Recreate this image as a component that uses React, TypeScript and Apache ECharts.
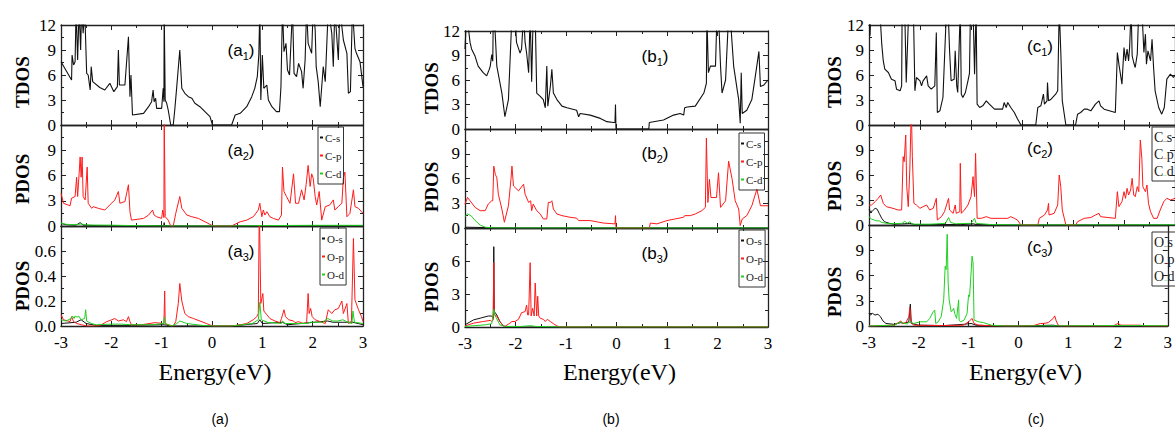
import React, { useEffect, useRef } from "react";
import * as echarts from "echarts";

type P = [number, number][];

// ---------- Column (a) ----------
const aTDOS: P = [[-3.00,7.6],[-2.79,5.4],[-2.78,8.4],[-2.75,7.2],[-2.72,7.6],[-2.70,14],[-2.67,7.8],[-2.64,14],[-2.61,9],[-2.59,14],[-2.56,11],[-2.53,14],[-2.49,6.2],[-2.46,6],[-2.42,4.2],[-2.40,7],[-2.37,5.2],[-2.23,4.5],[-2.13,4.2],[-2.03,5],[-1.95,4],[-1.88,4.6],[-1.86,9],[-1.84,4.8],[-1.73,4.8],[-1.66,10.6],[-1.63,3.4],[-1.61,6],[-1.58,1.2],[-1.36,1.4],[-1.26,2.2],[-1.20,2.8],[-1.17,4.2],[-1.15,2.8],[-1.12,3.2],[-1.10,2],[-1.00,2],[-0.97,4.4],[-0.955,2.8],[-0.95,14],[-0.94,14],[-0.93,3],[-0.90,2.6],[-0.87,1.8],[-0.82,0],[-0.77,0],[-0.74,1.8],[-0.70,4.6],[-0.64,9],[-0.60,4.4],[-0.54,3.8],[-0.47,3.4],[-0.40,3.2],[-0.34,2.6],[-0.24,2.2],[-0.14,1.6],[-0.04,1],[0.01,0],[0.39,0],[0.46,1.2],[0.56,1.4],[0.69,2.2],[0.79,3.4],[0.85,4.4],[0.90,5.8],[0.93,8.4],[0.95,14],[0.97,3],[1.00,8.4],[1.03,4.4],[1.09,4.8],[1.12,3],[1.19,2.2],[1.28,1.6],[1.34,1.6],[1.37,4.6],[1.40,14],[1.43,8.8],[1.47,9.8],[1.50,6.6],[1.54,6],[1.60,14],[1.63,6.2],[1.68,5.8],[1.72,7.4],[1.78,6.4],[1.81,4.4],[1.85,7.8],[1.88,14],[1.91,9.8],[1.98,8.6],[2.01,14],[2.05,11.4],[2.07,7],[2.11,5.2],[2.15,2.2],[2.21,7],[2.25,5.2],[2.31,14],[2.38,11],[2.41,7],[2.44,14],[2.51,7.8],[2.54,14],[2.61,10.2],[2.68,8.6],[2.71,3.8],[2.75,4],[2.79,14],[2.84,9.2],[2.87,8.6],[2.94,7.6],[3.00,4.6]];
const aCs: P = [[-3,0.3],[-2.9,0.15],[-2.7,0.1],[-2.62,0.4],[-2.56,0.1],[-2.3,0.05],[-1.6,0.02],[-0.96,0.05],[-0.95,0.4],[-0.94,0.05],[-0.8,0],[0.4,0],[1,0.05],[2,0.05],[3,0.05]];
const aCp: P = [[-3.00,3.9],[-2.95,2.7],[-2.82,2.4],[-2.79,3.3],[-2.72,3.5],[-2.69,5.8],[-2.67,3.5],[-2.64,6.2],[-2.62,8.2],[-2.60,5.8],[-2.58,8.2],[-2.56,3.5],[-2.52,3.1],[-2.48,7],[-2.46,2.7],[-2.39,2.1],[-2.36,2.3],[-2.26,2.1],[-2.13,1.9],[-2.03,2.5],[-1.93,3.1],[-1.86,4.1],[-1.83,2.7],[-1.73,2.9],[-1.66,4.9],[-1.63,1.7],[-1.60,0.7],[-1.36,0.9],[-1.26,1.3],[-1.18,1.9],[-1.15,1.3],[-1.10,1.1],[-1.00,0.9],[-0.98,1.9],[-0.955,1.0],[-0.95,14],[-0.94,14],[-0.93,1.1],[-0.87,0.7],[-0.82,0],[-0.77,0],[-0.72,1.5],[-0.64,3.5],[-0.60,2.1],[-0.50,1.3],[-0.40,1.1],[-0.27,0.9],[-0.14,0.5],[-0.01,0.1],[0.03,0],[0.39,0],[0.42,0.1],[0.56,0.5],[0.69,0.7],[0.82,1.1],[0.92,1.9],[0.95,2.7],[0.99,1.1],[1.02,1.9],[1.05,1.3],[1.09,1.7],[1.15,1.1],[1.22,0.9],[1.32,0.7],[1.38,1.3],[1.40,7],[1.43,4.1],[1.48,3.5],[1.55,2.7],[1.62,6.2],[1.66,2.7],[1.72,2.7],[1.78,4.3],[1.83,3.1],[1.87,4.9],[1.91,7.2],[1.95,4.7],[1.98,6.2],[2.01,5.7],[2.05,3.5],[2.08,2.5],[2.13,4.1],[2.18,0.7],[2.25,2.3],[2.34,2.5],[2.41,3.1],[2.44,1.9],[2.51,2.3],[2.58,2.7],[2.61,5.7],[2.64,6.4],[2.68,1.1],[2.74,1.5],[2.81,4.3],[2.84,2.3],[2.91,2.1],[2.97,1.7],[3.00,1.5]];
const aCd: P = [[-3,0.35],[-2.9,0.2],[-2.7,0.15],[-2.6,0.25],[-2.5,0.12],[-2,0.1],[-1.6,0.05],[-0.8,0],[0.4,0],[1,0.05],[2,0.08],[3,0.08]];
const aOs: P = [[-3,0.02],[-2.7,0.03],[-2.6,0.05],[-2.5,0.02],[-2.3,0.005],[-1.6,0.005],[-0.95,0.01],[-0.8,0],[0.4,0],[0.9,0.02],[0.95,0.05],[1.0,0.02],[1.4,0.03],[1.5,0.01],[2.3,0.04],[2.4,0.03],[2.6,0.03],[2.8,0.03],[3,0.01]];
const aOp: P = [[-3.00,0.09],[-2.95,0.05],[-2.82,0.035],[-2.79,0.075],[-2.75,0.035],[-2.69,0.02],[-2.59,0.01],[-2.49,0],[-2.3,0],[-2.2,0.01],[-2.09,0.035],[-1.99,0.05],[-1.93,0.06],[-1.86,0.04],[-1.76,0.05],[-1.70,0.035],[-1.66,0.075],[-1.63,0.035],[-1.60,0.01],[-1.40,0.01],[-1.13,0.027],[-0.97,0.02],[-0.955,0.02],[-0.94,0.28],[-0.93,0.02],[-0.87,0.01],[-0.77,0],[-0.72,0.035],[-0.67,0.18],[-0.64,0.34],[-0.60,0.2],[-0.54,0.1],[-0.47,0.075],[-0.37,0.06],[-0.24,0.04],[-0.11,0.02],[-0.02,0.005],[0.03,0],[0.39,0],[0.56,0.01],[0.69,0.02],[0.82,0.05],[0.89,0.075],[0.92,0.1],[0.94,0.95],[0.97,0.18],[1.01,0.26],[1.03,0.12],[1.09,0.09],[1.15,0.06],[1.25,0.04],[1.35,0.027],[1.38,0.06],[1.43,0.13],[1.46,0.075],[1.52,0.05],[1.62,0.04],[1.65,0.027],[1.72,0.035],[1.81,0.02],[1.88,0.027],[1.91,0.26],[1.93,0.1],[1.96,0.14],[1.99,0.075],[2.05,0.05],[2.15,0.035],[2.25,0.02],[2.31,0.13],[2.38,0.1],[2.44,0.13],[2.51,0.14],[2.58,0.2],[2.61,0.1],[2.68,0.18],[2.71,0.02],[2.77,0.035],[2.81,0.70],[2.84,0.21],[2.91,0.13],[2.97,0.075],[3.00,0.035]];
const aOd: P = [[-3,0.05],[-2.9,0.04],[-2.8,0.06],[-2.77,0.08],[-2.74,0.06],[-2.72,0.08],[-2.68,0.07],[-2.65,0.08],[-2.6,0.05],[-2.53,0.06],[-2.51,0.13],[-2.49,0.04],[-2.4,0.02],[-2.3,0.01],[-2.0,0.015],[-1.8,0.015],[-1.6,0.01],[-1.2,0.01],[-0.96,0.02],[-0.95,0.07],[-0.93,0.02],[-0.8,0],[-0.7,0.02],[-0.64,0.04],[-0.5,0.02],[-0.2,0.005],[0,0],[0.4,0],[0.8,0.02],[0.92,0.05],[0.95,0.19],[0.98,0.05],[1.1,0.03],[1.38,0.02],[1.4,0.04],[1.45,0.02],[1.9,0.02],[1.95,0.03],[2.2,0.03],[2.3,0.06],[2.4,0.04],[2.5,0.04],[2.6,0.05],[2.7,0.03],[2.78,0.02],[2.8,0.12],[2.83,0.03],[3,0.02]];

// ---------- Column (b) ----------
const bTDOS: P = [[-3.00,9.8],[-2.98,12.5],[-2.93,12.2],[-2.90,10.6],[-2.87,9.8],[-2.80,8.9],[-2.74,7.7],[-2.64,6.9],[-2.57,6.5],[-2.52,7.3],[-2.50,7.7],[-2.47,9.1],[-2.45,8.3],[-2.44,14],[-2.42,14],[-2.37,7.7],[-2.27,4.4],[-2.21,1.5],[-2.14,3.6],[-2.07,14],[-2.01,14],[-1.98,10.6],[-1.91,9.3],[-1.88,9.8],[-1.84,14],[-1.81,10.6],[-1.78,9.3],[-1.74,6.9],[-1.71,14],[-1.68,5.8],[-1.65,14],[-1.61,14],[-1.58,4.4],[-1.51,4],[-1.45,3.6],[-1.41,2.6],[-1.38,7.7],[-1.36,2.8],[-1.31,5.2],[-1.28,7.3],[-1.25,4.4],[-1.18,3.6],[-1.08,2.8],[-0.98,2.6],[-0.79,2.3],[-0.75,1.5],[-0.72,1.9],[-0.52,1.7],[-0.32,1.3],[-0.19,0.9],[-0.06,0.8],[-0.03,0.8],[-0.02,3],[-0.01,0],[0.64,0],[0.65,0.8],[0.93,1.1],[1.13,1.7],[1.26,1.9],[1.33,1.7],[1.35,2.6],[1.40,2.7],[1.56,2.8],[1.73,4.4],[1.78,5.6],[1.79,14],[1.82,6.9],[1.86,7.7],[1.96,7.7],[1.99,14],[2.02,14],[2.06,7.7],[2.09,4.4],[2.16,6],[2.22,14],[2.25,14],[2.32,7.7],[2.39,4.8],[2.42,3.6],[2.45,0.7],[2.47,6.9],[2.49,1.9],[2.58,2.3],[2.68,3.6],[2.75,6.5],[2.82,9.5],[2.85,5.2],[2.92,5.4],[3.00,6]];
const bCs: P = [[-3,0.1],[-2.6,0.05],[-2.4,0.02],[-2,0],[3,0]];
const bCp: P = [[-3.00,2.9],[-2.95,3.7],[-2.90,3.3],[-2.80,2.5],[-2.70,2.1],[-2.60,2.1],[-2.54,2.9],[-2.47,3.3],[-2.45,3.3],[-2.43,7.5],[-2.40,6.5],[-2.37,6.1],[-2.34,4.1],[-2.27,2.3],[-2.22,0.7],[-2.14,2.7],[-2.09,5.9],[-2.07,7.5],[-2.04,5.1],[-1.94,4.5],[-1.84,5.3],[-1.81,4.1],[-1.74,3.1],[-1.70,3.3],[-1.68,2.1],[-1.65,2.9],[-1.58,2.1],[-1.51,1.7],[-1.45,1.1],[-1.38,1.1],[-1.35,3.1],[-1.31,3.1],[-1.28,3.3],[-1.25,2.3],[-1.18,1.7],[-1.08,1.5],[-0.92,1.3],[-0.79,1.2],[-0.75,0.9],[-0.52,0.9],[-0.26,0.6],[-0.03,0.5],[-0.02,1.5],[-0.01,0],[0.65,0],[0.67,0.6],[0.80,0.5],[1.00,0.9],[1.16,1.1],[1.33,1.3],[1.35,1.5],[1.46,1.5],[1.56,1.7],[1.69,2.1],[1.76,2.5],[1.78,10.9],[1.81,3.1],[1.84,5.9],[1.87,3.7],[1.98,3.7],[2.02,6.7],[2.06,2.5],[2.16,3.3],[2.22,8.1],[2.29,5.9],[2.35,3.3],[2.42,2.3],[2.45,0.3],[2.49,1.1],[2.58,1.5],[2.68,2.7],[2.78,4.7],[2.85,2.7],[3.00,2.7]];
const bCd: P = [[-3,1.4],[-2.95,1.7],[-2.88,1.5],[-2.8,0.9],[-2.7,0.35],[-2.6,0.1],[-2.45,0.02],[-2.2,0],[3,0]];
const bOs: P = [[-3,0.2],[-2.83,0.65],[-2.70,0.8],[-2.54,1.0],[-2.47,1.0],[-2.44,0.8],[-2.43,7.3],[-2.42,1.4],[-2.37,1.1],[-2.31,0.5],[-2.24,0.1],[-2.17,0],[3,0]];
const bOp: P = [[-3.00,0.1],[-2.83,0.35],[-2.64,0.5],[-2.50,0.6],[-2.47,0.5],[-2.44,0.65],[-2.43,5.85],[-2.42,1.1],[-2.37,1.0],[-2.31,0.5],[-2.24,0.1],[-2.21,0.05],[-2.11,0.35],[-2.07,0.5],[-2.01,0.5],[-1.94,0.7],[-1.88,1.3],[-1.81,1.4],[-1.78,2.0],[-1.76,1.1],[-1.74,1.1],[-1.71,5.85],[-1.69,1.0],[-1.66,1.7],[-1.63,1.0],[-1.61,4.0],[-1.58,1.0],[-1.56,2.8],[-1.54,1.0],[-1.51,0.8],[-1.45,0.7],[-1.41,0.5],[-1.37,0.7],[-1.31,0.5],[-1.25,0.3],[-1.18,0.1],[-1.12,0],[3,0]];
const bOd: P = [[-3,0.05],[-2.6,0.2],[-2.47,0.3],[-2.43,1.6],[-2.40,1.0],[-2.31,0.2],[-2.2,0.05],[-1.9,0.05],[-1.7,0.12],[-1.6,0.05],[-1.3,0.02],[-1.1,0],[3,0]];

// ---------- Column (c) ----------
const cTDOS: P = [[-3.00,14],[-2.98,10.7],[-2.96,14],[-2.79,14],[-2.75,9.7],[-2.72,7.7],[-2.69,6.7],[-2.62,6.3],[-2.56,5.5],[-2.49,5.3],[-2.46,4.3],[-2.39,4.1],[-2.36,4.7],[-2.35,14],[-2.30,14],[-2.27,5.1],[-2.22,14],[-2.18,14],[-2.13,14],[-2.10,4.1],[-2.07,5.7],[-2.00,5.3],[-1.97,4.7],[-1.94,5.3],[-1.87,5.9],[-1.84,4.7],[-1.78,4.3],[-1.71,4.7],[-1.68,11.1],[-1.66,1.5],[-1.61,1.7],[-1.55,3.3],[-1.48,14],[-1.45,14],[-1.42,8.9],[-1.39,5.3],[-1.33,5.5],[-1.31,8.9],[-1.28,4.7],[-1.26,3.9],[-1.21,14],[-1.19,3.7],[-1.16,3.3],[-1.11,3.9],[-1.06,5.3],[-1.03,6.2],[-1.01,14],[-0.96,14],[-0.93,6.1],[-0.90,14],[-0.88,2.5],[-0.83,2.1],[-0.77,2.3],[-0.70,2.9],[-0.64,2.5],[-0.54,1.9],[-0.38,1.9],[-0.35,2.7],[-0.31,2.1],[-0.28,2.7],[-0.22,2.1],[-0.15,1.5],[-0.09,0.75],[-0.02,0],[0.27,0],[0.31,2.1],[0.37,2.3],[0.42,3.7],[0.44,2.5],[0.49,2.9],[0.50,5.1],[0.52,2.9],[0.57,3.1],[0.66,3.7],[0.70,4.1],[0.73,14],[0.76,8.9],[0.79,2.9],[0.86,0],[1.05,0],[1.09,1.3],[1.15,1.5],[1.22,1.9],[1.28,1.9],[1.35,1.7],[1.44,2.5],[1.51,2.9],[1.54,2.3],[1.61,1.9],[1.83,1.5],[1.87,8.7],[1.90,7.3],[1.96,4.9],[2.00,9.3],[2.03,7.7],[2.06,9.1],[2.09,7.7],[2.11,9.3],[2.14,14],[2.16,8.3],[2.19,7.5],[2.22,6.9],[2.26,8.5],[2.29,14],[2.35,14],[2.39,8.7],[2.42,10.9],[2.44,7.3],[2.47,8.9],[2.52,7.7],[2.55,10.3],[2.58,6.9],[2.61,4.1],[2.68,2.1],[2.74,1.3],[2.79,2.1],[2.84,5.5],[2.91,6.1],[2.97,5.7],[3.00,6]];
const cCs: P = [[-3,1.9],[-2.97,1.6],[-2.93,1.7],[-2.88,2.0],[-2.84,1.9],[-2.8,1.4],[-2.75,0.8],[-2.7,0.4],[-2.6,0.2],[-2.5,0.1],[-2.3,0.15],[-2.2,0.2],[-2.1,0.05],[-1.5,0.05],[-1.2,0.05],[-0.95,0.15],[-0.9,0.05],[-0.5,0.02],[0,0],[3,0]];
const cCp: P = [[-3.00,2.4],[-2.95,2.4],[-2.88,2.8],[-2.82,3.2],[-2.77,3.6],[-2.72,2.6],[-2.66,2.2],[-2.53,2.0],[-2.43,1.8],[-2.36,1.8],[-2.33,8.2],[-2.31,7.6],[-2.28,10.8],[-2.26,4.6],[-2.23,2.2],[-2.20,6.6],[-2.17,14],[-2.15,8.2],[-2.12,2.6],[-2.07,2.4],[-2.00,2.0],[-1.94,2.2],[-1.87,2.4],[-1.81,1.8],[-1.74,2.0],[-1.68,3.2],[-1.66,0.6],[-1.58,1.0],[-1.52,1.6],[-1.44,3.2],[-1.42,1.8],[-1.35,1.4],[-1.31,2.4],[-1.29,1.4],[-1.22,1.6],[-1.21,7.4],[-1.19,1.4],[-1.13,1.8],[-1.06,2.4],[-1.00,3.4],[-0.96,5.8],[-0.95,4.8],[-0.93,3.4],[-0.91,8.6],[-0.88,0.8],[-0.80,0.8],[-0.70,1.0],[-0.61,0.8],[-0.41,0.8],[-0.28,0.8],[-0.22,1.0],[-0.15,0.8],[-0.09,0.6],[-0.02,0],[0.31,0],[0.34,0.8],[0.44,1.2],[0.50,1.8],[0.52,2.6],[0.53,1.2],[0.63,1.4],[0.70,2.4],[0.73,6.0],[0.76,4.6],[0.79,1.8],[0.86,0],[1.05,0],[1.09,0.4],[1.22,0.8],[1.35,0.9],[1.44,1.2],[1.51,1.4],[1.54,1.0],[1.83,0.8],[1.87,4.0],[1.90,2.2],[1.96,2.8],[2.00,4.0],[2.03,3.2],[2.06,4.4],[2.09,3.6],[2.13,4.2],[2.16,5.6],[2.19,3.6],[2.22,3.4],[2.26,4.6],[2.29,4.0],[2.32,10.2],[2.35,8.0],[2.37,4.6],[2.42,4.0],[2.45,4.8],[2.48,2.6],[2.52,1.6],[2.58,0.8],[2.65,0.8],[2.71,1.8],[2.78,2.8],[2.84,3.2],[2.91,3.0],[3.00,3.2]];
const cCd: P = [[-3,1.0],[-2.95,0.7],[-2.9,0.6],[-2.85,0.5],[-2.8,0.5],[-2.75,0.3],[-2.6,0.15],[-2.35,0.2],[-2.3,0.45],[-2.25,0.2],[-2.2,0.4],[-2.15,0.1],[-1.8,0.1],[-1.5,0.2],[-1.44,0.9],[-1.40,0.3],[-1.3,0.15],[-1.0,0.2],[-0.93,0.8],[-0.9,0.2],[-0.6,0.05],[0,0],[3,0.02]];
const cOs: P = [[-3,1.5],[-2.97,1.3],[-2.93,1.5],[-2.88,1.3],[-2.82,1.4],[-2.77,1.1],[-2.72,0.6],[-2.66,0.3],[-2.5,0.2],[-2.36,0.4],[-2.30,0.3],[-2.20,0.5],[-2.17,2.6],[-2.15,0.3],[-2.0,0.1],[-1.5,0.05],[-1.1,0.2],[-0.95,0.3],[-0.85,0.1],[-0.5,0.02],[0,0],[0.7,0.1],[0.8,0],[3,0]];
const cOp: P = [[-3,0],[-2.49,0.1],[-2.36,0.6],[-2.33,0.3],[-2.26,0.4],[-2.20,1.1],[-2.18,2.2],[-2.16,0.4],[-2.10,0.1],[-1.5,0.05],[-1.1,0.1],[-1.00,0.5],[-0.93,0.9],[-0.89,0.3],[-0.8,0.1],[-0.5,0.02],[0,0],[0.31,0.05],[0.44,0.3],[0.50,0.3],[0.60,0.4],[0.70,0.9],[0.73,1.2],[0.76,0.6],[0.80,0.1],[0.86,0],[1.9,0],[2.0,0.3],[2.06,0.1],[2.3,0.1],[2.45,0.1],[2.5,0],[3,0]];
const cOd: P = [[-3.00,0],[-2.49,0.1],[-2.36,0.5],[-2.30,0.3],[-2.23,0.25],[-2.20,0.4],[-2.17,0.5],[-2.10,0.3],[-1.97,0.5],[-1.84,0.5],[-1.78,0.9],[-1.71,1.7],[-1.68,1.9],[-1.66,0.3],[-1.61,0.5],[-1.55,1.1],[-1.50,3.1],[-1.47,7.1],[-1.45,6.7],[-1.43,10.9],[-1.41,5.1],[-1.39,3.1],[-1.35,1.7],[-1.32,1.9],[-1.30,2.1],[-1.28,1.5],[-1.24,0.9],[-1.20,3.1],[-1.19,0.7],[-1.16,0.5],[-1.09,0.7],[-1.03,1.5],[-1.00,3.7],[-0.98,3.5],[-0.95,6.3],[-0.93,8.3],[-0.91,7.5],[-0.89,0.7],[-0.80,0.5],[-0.70,0.4],[-0.54,0.1],[-0.28,0],[0.5,0.02],[1,0.02],[2,0.05],[2.5,0.05],[3,0.02]];

// ---------- Axes / labels ----------
const energyRange = [-3, 3];
const tdosRange = [0, 12];
const cPdosNames = ["C-s", "C-p", "C-d"];
const oPdosNames = ["O-s", "O-p", "O-d"];
const columnCaptions = ["(a)", "(b)", "(c)"];
const xTitle = "Energy(eV)";

const SERIF = "'Liberation Serif','Times New Roman',serif";
const SANS = "'Liberation Sans',Arial,sans-serif";
const BLACK = "#111111";
const RED = "#ff1a1a";
const GREEN = "#1fd01f";
const AX = "#222222";

const COLS = [
  { left: 61, width: 302, rows: [25, 125, 226, 326], yNameX: 22, yNameY: [82, 179, 286], tagX: 241, tagY: [50, 150, 251], capX: 220, legL: [318, 320], legT: [127, 228] },
  { left: 465, width: 303, rows: [31, 129, 228, 327], yNameX: 431, yNameY: [88, 187, 287], tagX: 655, tagY: [56, 153, 253], capX: 611, legL: [739, 739], legT: [133, 230] },
  { left: 869, width: 307, rows: [25, 125, 225, 326], yNameX: 834, yNameY: [82, 186, 292], tagX: 1040, tagY: [46, 148, 247], capX: 1036, legL: [1152, 1152], legT: [127, 232] },
];

type Panel = { col: number; row: number; yMax: number; yInt: number; hideMax: boolean; dec: number; letter: string; yName: string; series: { name: string; data: P; color: string }[] };

const panels: Panel[] = [
  { col: 0, row: 0, yMax: 12, yInt: 3, hideMax: false, dec: 0, letter: "a", yName: "TDOS", series: [{ name: "TDOS", data: aTDOS, color: BLACK }] },
  { col: 0, row: 1, yMax: 12, yInt: 3, hideMax: true, dec: 0, letter: "a", yName: "PDOS", series: [{ name: cPdosNames[0], data: aCs, color: BLACK }, { name: cPdosNames[1], data: aCp, color: RED }, { name: cPdosNames[2], data: aCd, color: GREEN }] },
  { col: 0, row: 2, yMax: 0.8, yInt: 0.2, hideMax: true, dec: 1, letter: "a", yName: "PDOS", series: [{ name: oPdosNames[0], data: aOs, color: BLACK }, { name: oPdosNames[1], data: aOp, color: RED }, { name: oPdosNames[2], data: aOd, color: GREEN }] },
  { col: 1, row: 0, yMax: 12, yInt: 3, hideMax: false, dec: 0, letter: "b", yName: "TDOS", series: [{ name: "TDOS", data: bTDOS, color: BLACK }] },
  { col: 1, row: 1, yMax: 12, yInt: 3, hideMax: true, dec: 0, letter: "b", yName: "PDOS", series: [{ name: cPdosNames[0], data: bCs, color: BLACK }, { name: cPdosNames[1], data: bCp, color: RED }, { name: cPdosNames[2], data: bCd, color: GREEN }] },
  { col: 1, row: 2, yMax: 9, yInt: 3, hideMax: true, dec: 0, letter: "b", yName: "PDOS", series: [{ name: oPdosNames[0], data: bOs, color: BLACK }, { name: oPdosNames[1], data: bOp, color: RED }, { name: oPdosNames[2], data: bOd, color: GREEN }] },
  { col: 2, row: 0, yMax: 12, yInt: 3, hideMax: false, dec: 0, letter: "c", yName: "TDOS", series: [{ name: "TDOS", data: cTDOS, color: BLACK }] },
  { col: 2, row: 1, yMax: 12, yInt: 3, hideMax: true, dec: 0, letter: "c", yName: "PDOS", series: [{ name: cPdosNames[0], data: cCs, color: BLACK }, { name: cPdosNames[1], data: cCp, color: RED }, { name: cPdosNames[2], data: cCd, color: GREEN }] },
  { col: 2, row: 2, yMax: 12, yInt: 3, hideMax: true, dec: 0, letter: "c", yName: "PDOS", series: [{ name: oPdosNames[0], data: cOs, color: BLACK }, { name: oPdosNames[1], data: cOp, color: RED }, { name: oPdosNames[2], data: cOd, color: GREEN }] },
];

function buildOption() {
  const grid: any[] = [];
  const xAxis: any[] = [];
  const yAxis: any[] = [];
  const series: any[] = [];
  const legend: any[] = [];
  const graphic: any[] = [];

  const axisLine = { show: true, onZero: false, lineStyle: { color: AX, width: 1.3 } };
  const axisTick = { show: true, inside: true, length: 5, lineStyle: { color: AX, width: 1 } };
  const minorTick = { show: true, splitNumber: 2, length: 3, lineStyle: { color: AX, width: 1 } };

  panels.forEach((p, gi) => {
    const c = COLS[p.col];
    const top = c.rows[p.row];
    const bottom = c.rows[p.row + 1];
    grid.push({ left: c.left, top, width: c.width, height: bottom - top, containLabel: false });
    const bottomRow = p.row === 2;
    const xCommon = { type: "value", gridIndex: gi, min: energyRange[0], max: energyRange[1], interval: 1, axisLine, axisTick, minorTick, splitLine: { show: false }, minorSplitLine: { show: false } };
    xAxis.push({ ...xCommon, position: "bottom", axisLabel: { show: bottomRow, fontFamily: SERIF, fontSize: 17, color: "#000", margin: 8 } });
    xAxis.push({ ...xCommon, position: "top", axisLabel: { show: false } });
    const yCommon = { type: "value", gridIndex: gi, min: tdosRange[0], max: p.yMax, interval: p.yInt, axisLine, axisTick, minorTick, splitLine: { show: false }, minorSplitLine: { show: false } };
    yAxis.push({ ...yCommon, position: "left", axisLabel: { show: true, fontFamily: SERIF, fontSize: 17, color: "#000", margin: 5, showMaxLabel: !p.hideMax, showMinLabel: true, formatter: (v: number) => v.toFixed(p.dec) } });
    yAxis.push({ ...yCommon, position: "right", axisLabel: { show: false } });

    p.series.forEach((s, k) => {
      series.push({
        type: "line", name: s.name, data: s.data, xAxisIndex: 2 * gi, yAxisIndex: 2 * gi,
        showSymbol: false, symbol: "none", clip: true, silent: true, z: 2 + k,
        lineStyle: { color: s.color, width: s.name === "TDOS" ? 1.1 : 1 }, itemStyle: { color: s.color },
      });
    });

    graphic.push({ type: "text", x: c.yNameX, y: c.yNameY[p.row], rotation: Math.PI / 2, style: { text: p.yName, fontFamily: SERIF, fontSize: 19, fontWeight: "bold", fill: "#000", align: "center", verticalAlign: "middle" } });
    graphic.push({ type: "text", x: c.tagX, y: c.tagY[p.row], style: { text: `{n|(${p.letter}}{s|${p.row + 1}}{n|)}`, align: "center", verticalAlign: "middle", rich: { n: { fontFamily: SANS, fontSize: 17, lineHeight: 22, fill: "#000", verticalAlign: "middle" }, s: { fontFamily: SANS, fontSize: 11, lineHeight: 11, fill: "#000", verticalAlign: "bottom" } } } });

    if (p.row > 0) {
      const names = p.row === 1 ? cPdosNames : oPdosNames;
      const li = p.row - 1;
      if (p.col < 2) {
        legend.push({ orient: "vertical", left: c.legL[li], top: c.legT[li], data: names, icon: "rect", itemWidth: 3, itemHeight: 2, itemGap: 7, padding: [5, 2, 5, 2], borderColor: "#333", borderWidth: 1, selectedMode: false, textStyle: { fontFamily: SERIF, fontSize: 11, color: "#222", padding: [0, 0, 0, -3] } });
      } else {
        legend.push({ orient: "vertical", left: c.legL[li], top: c.legT[li], data: names, icon: "rect", itemWidth: 0, itemHeight: 0, itemGap: 3, padding: [3, 20, 3, 0], borderColor: "#333", borderWidth: 1, selectedMode: false,
          formatter: (name: string) => { const suf = name.slice(2); const key = suf === "s" ? "k" : suf === "p" ? "r" : "g"; return `${name[0]}{${key}|–}${suf}`; },
          textStyle: { fontFamily: SERIF, fontSize: 14, color: "#222", padding: [0, 0, 0, -3], rich: { k: { color: BLACK, fontSize: 7, fontFamily: SERIF, verticalAlign: "bottom" }, r: { color: RED, fontSize: 7, fontFamily: SERIF, verticalAlign: "bottom" }, g: { color: GREEN, fontSize: 7, fontFamily: SERIF, verticalAlign: "bottom" } } } });
      }
    }
  });

  COLS.forEach((c, i) => {
    graphic.push({ type: "text", x: c.left + c.width / 2 + 3, y: 372, style: { text: xTitle, fontFamily: SERIF, fontSize: 24, fill: "#000", align: "center", verticalAlign: "middle" } });
    graphic.push({ type: "text", x: c.capX, y: 419, style: { text: columnCaptions[i], fontFamily: SANS, fontSize: 14, fill: "#000", align: "center", verticalAlign: "middle" } });
  });

  return { animation: false, backgroundColor: "#ffffff", grid, xAxis, yAxis, series, legend, graphic, tooltip: { show: false } };
}

export default function App() {
  const ref = useRef<HTMLDivElement>(null);
  useEffect(() => {
    if (!ref.current) return;
    const chart = echarts.init(ref.current, undefined, { renderer: "svg" });
    chart.setOption(buildOption() as any);
    return () => chart.dispose();
  }, []);
  return <div ref={ref} style={{ position: "absolute", left: 0, top: 0, width: 1175, height: 429, background: "#fff" }} />;
}
